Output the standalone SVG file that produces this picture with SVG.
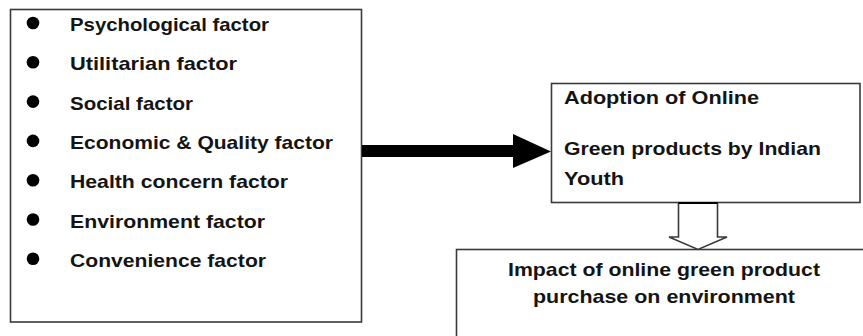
<svg xmlns="http://www.w3.org/2000/svg" width="863" height="336" viewBox="0 0 863 336">
<style>
.box{fill:#fff;stroke:#3a3a3a;stroke-width:1.6}
.t{font-family:"Liberation Sans",Arial,sans-serif;font-weight:bold;font-size:19px;fill:#141414}
.b{fill:#000}
</style>
<rect width="863" height="336" fill="#fff"/>
<g id="factors">
<rect class="box" x="10.5" y="9.5" width="351" height="312.5"/>
<circle class="b" cx="33" cy="23" r="6.3"/>
<circle class="b" cx="33" cy="62.3" r="6.3"/>
<circle class="b" cx="33" cy="101.6" r="6.3"/>
<circle class="b" cx="33" cy="140.9" r="6.3"/>
<circle class="b" cx="33" cy="180.2" r="6.3"/>
<circle class="b" cx="33" cy="219.5" r="6.3"/>
<circle class="b" cx="33" cy="258.8" r="6.3"/>
<text class="t" x="70" y="31" textLength="199" lengthAdjust="spacingAndGlyphs">Psychological factor</text>
<text class="t" x="70" y="70.3" textLength="167" lengthAdjust="spacingAndGlyphs">Utilitarian factor</text>
<text class="t" x="70" y="109.6" textLength="123" lengthAdjust="spacingAndGlyphs">Social factor</text>
<text class="t" x="70" y="148.9" textLength="263" lengthAdjust="spacingAndGlyphs">Economic &amp; Quality factor</text>
<text class="t" x="70" y="188.2" textLength="218" lengthAdjust="spacingAndGlyphs">Health concern factor</text>
<text class="t" x="70" y="227.5" textLength="195" lengthAdjust="spacingAndGlyphs">Environment factor</text>
<text class="t" x="70" y="266.8" textLength="196" lengthAdjust="spacingAndGlyphs">Convenience factor</text>
</g>
<g id="adoption">
<rect class="box" x="551.5" y="83.5" width="308.5" height="119"/>
<text class="t" x="564" y="104" textLength="195" lengthAdjust="spacingAndGlyphs">Adoption of Online</text>
<text class="t" x="564" y="155" textLength="257" lengthAdjust="spacingAndGlyphs">Green products by Indian</text>
<text class="t" x="564" y="185" textLength="60" lengthAdjust="spacingAndGlyphs">Youth</text>
</g>
<g id="impact">
<rect class="box" x="456.5" y="249.5" width="430" height="100"/>
<text class="t" x="664" y="276" text-anchor="middle" textLength="312" lengthAdjust="spacingAndGlyphs">Impact of online green product</text>
<text class="t" x="664" y="303" text-anchor="middle" textLength="262" lengthAdjust="spacingAndGlyphs">purchase on environment</text>
</g>
<g id="connectors">
<polygon fill="#000" points="362,145 513,145 513,134 551,151.5 513,168 513,157 362,157"/>
<polygon fill="#fff" stroke="#3a3a3a" stroke-width="1.6" points="678.5,203 717.5,203 717.5,237 727,237 698,249.5 669,237 678.5,237"/>
<line x1="678.5" y1="203" x2="717.5" y2="203" stroke="#000" stroke-width="2"/>
</g>
</svg>
